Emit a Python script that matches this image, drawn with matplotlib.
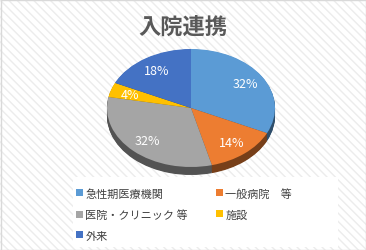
import numpy as np
import matplotlib.pyplot as plt
from matplotlib.patches import Rectangle, Patch
from matplotlib.colors import to_rgb

plt.rcParams['font.family'] = ['Noto Sans CJK JP', 'DejaVu Sans']

title = '入院連携'
labels = ['急性期医療機関', '一般病院　等', '医院・クリニック 等', '施設', '外来']
values = [32, 14, 32, 4, 18]
colors = ['#5b9bd5', '#ed7d31', '#a5a5a5', '#ffc000', '#4472c4']

W, H = 366, 251
fig = plt.figure(figsize=(W / 100, H / 100), dpi=100)

# background with light diagonal stripes
bg = fig.add_axes([0, 0, 1, 1])
bg.set_xlim(0, W)
bg.set_ylim(H, 0)
bg.axis('off')
bg.add_patch(Rectangle((0, 0), W, H, facecolor='white', edgecolor='#ececec',
                       hatch='\\\\\\\\', linewidth=0))
bg.add_patch(Rectangle((0.5, 0.5), W - 1, H - 1, facecolor='none', edgecolor='#d9d9d9', linewidth=1))
bg.add_patch(Rectangle((73, 178), 265, 70, facecolor='white', edgecolor='none'))

fig.text(183 / W, 1 - 27 / H, title, ha='center', va='center', fontsize=16,
         fontweight='bold', color='#595959')

# pie as ellipse: center (191,109), rx 84, ry 59, depth ~8px
cx, cy, rx, ry, depth = 191, 109, 84, 59, 8
d = depth / ry
ax = fig.add_axes([(cx - rx) / W, 1 - (cy + ry + depth + 1) / H, 2 * rx / W, (2 * ry + depth + 1) / H])

dark = [tuple(c * 0.5 for c in to_rgb(col)) for col in colors]
for off in np.linspace(d, 0.01, 12):
    ax.pie(values, colors=dark, startangle=90, counterclock=False, center=(0, -off),
           wedgeprops=dict(linewidth=0))
wedges, texts, autotexts = ax.pie(values, colors=colors, startangle=90, counterclock=False,
                                  autopct='%d%%', pctdistance=0.76,
                                  wedgeprops=dict(linewidth=0),
                                  textprops=dict(color='white', fontsize=9))
ax.set_aspect('auto')
ax.set_xlim(-1, 1)
ax.set_ylim(-1 - d - 1 / ry, 1)
ax.axis('off')

order = [0, 2, 4, 1, 3]
handles = [Patch(facecolor=colors[i], edgecolor='none') for i in order]
fig.legend(handles, [labels[i] for i in order], ncol=2, frameon=False,
           loc='upper left', bbox_to_anchor=(76 / W, 1 - 189 / H),
           fontsize=8, handlelength=0.6, handleheight=0.6, handletextpad=0.25,
           labelspacing=0.95, columnspacing=2.5, borderpad=0, borderaxespad=0,
           labelcolor='#404040')

fig.savefig('out.png', dpi=100)
